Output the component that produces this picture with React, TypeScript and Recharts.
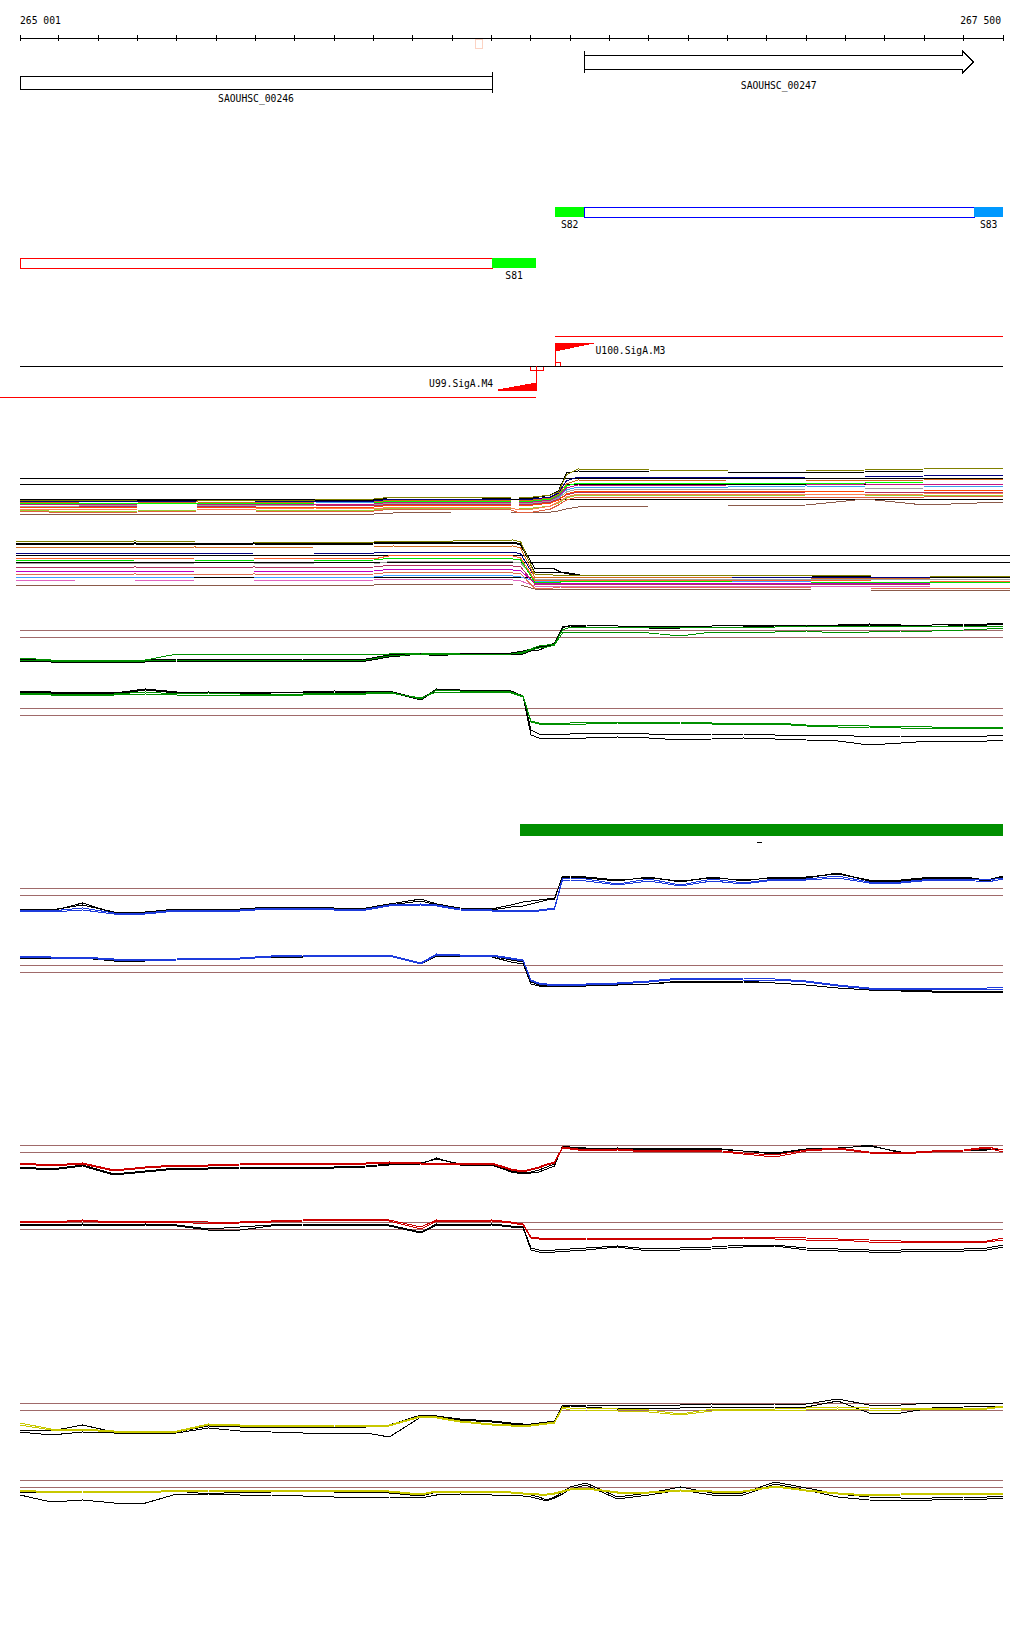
import React from 'react';
import { ComposedChart, LineChart, Line, XAxis, YAxis, ReferenceLine, ReferenceArea, Scatter } from 'recharts';

// ---------------- genome window ----------------
const START = 265001;
const END = 267500;
const W = 1024;
const FONT = '"DejaVu Sans Mono", monospace';

// ruler ticks and end labels
const axisTicks = [265001, 265100, 265200, 265300, 265400, 265500, 265600, 265700, 265800, 265900, 266000, 266100, 266200, 266300, 266400, 266500, 266600, 266700, 266800, 266900, 267000, 267100, 267200, 267300, 267400, 267500];
const axisEndLabels = ['265 001', '267 500'];
const markerStart = 266160;
const markerEnd = 266178;

// genes
const geneNames = ['SAOUHSC_00246', 'SAOUHSC_00247'];
const geneStarts = [265001, 266435];
const geneEnds = [266201, 267425];

// transcribed segments
const segNames = ['S81', 'S82', 'S83'];
const segStarts = [266201, 266362, 267427];
const segEnds = [266313, 266435, 267500];
const segStrands = ['-', '+', '+'];
const transcriptStarts = [265001, 266435];
const transcriptEnds = [266201, 267427];
const transcriptStrands = ['-', '+'];

// promoters
const promoterNames = ['U100.SigA.M3', 'U99.SigA.M4'];
const promoterPos = [266362, 266313];
const promoterStrands = ['+', '-'];
const strandLineStarts = [266362, 264950];
const strandLineEnds = [267500, 266313];

// green region + small mark
const regionStart = 266273;
const regionEnd = 267500;
const dashStart = 266875;
const dashEnd = 266888;

// ---------------- expression tracks ----------------
const posAB = [265001, 265150, 265300, 265450, 265600, 265750, 265900, 265950, 266100, 266250, 266270, 266305, 266350, 266370, 266390, 266420, 266600, 266800, 267000, 267150, 267300, 267500];

const A_olive = [2.5, 2.4, 2.5, 2.5, 2.5, 2.5, 2.6, 2.8, 2.8, 2.7, 2.7, 2.8, 3.0, 3.3, 5.0, 5.6, 5.5, 5.4, 5.4, 5.5, 5.6, 5.7];
const A_black = [2.5, 2.5, 2.5, 2.4, 2.5, 2.5, 2.5, 2.8, 2.8, 2.6, 2.6, 2.7, 3.0, 3.4, 5.2, 5.4, 5.3, 5.3, 5.2, 5.3, 5.4, 5.4];
const A_navy = [2.4, 2.4, 2.3, 2.4, 2.4, 2.4, 2.4, 2.6, 2.6, 2.5, 2.5, 2.6, 2.8, 3.2, 4.4, 4.8, 4.8, 4.7, 4.8, 4.8, 4.9, 5.0];
const A_orange = [2.3, 2.2, 2.2, 2.3, 2.2, 2.3, 2.3, 2.5, 2.5, 2.4, 2.4, 2.5, 2.7, 3.1, 4.1, 4.5, 4.4, 4.5, 4.5, 4.4, 4.5, 4.6];
const A_lime = [2.2, 2.2, 2.2, 2.2, 2.1, 2.2, 2.2, 2.4, 2.4, 2.3, 2.3, 2.4, 2.6, 3.0, 3.9, 4.2, 4.2, 4.2, 4.1, 4.2, 4.3, 4.3];
const A_magenta = [2.1, 2.0, 2.1, 2.1, 2.1, 2.1, 2.1, 2.3, 2.3, 2.2, 2.2, 2.3, 2.5, 2.9, 3.7, 4.0, 3.9, 4.0, 4.0, 4.1, 4.0, 4.1];
const A_sky = [2.2, 2.1, 2.1, 2.2, 2.2, 2.3, 2.2, 2.3, 2.3, 2.2, 2.2, 2.3, 2.5, 2.8, 3.5, 3.8, 3.8, 3.8, 3.9, 3.8, 3.8, 3.9];
const A_gray = [1.9, 1.9, 2.0, 2.0, 1.9, 2.0, 2.0, 2.2, 2.2, 2.1, 2.1, 2.2, 2.4, 2.7, 3.3, 3.6, 3.6, 3.5, 3.6, 3.6, 3.7, 3.7];
const A_red = [1.8, 1.7, 1.8, 1.8, 1.8, 1.8, 1.8, 2.0, 2.0, 1.9, 1.9, 2.0, 2.2, 2.5, 3.1, 3.4, 3.4, 3.4, 3.3, 3.4, 3.4, 3.5];
const A_crimson = [1.9, 1.8, 1.9, 1.9, 1.9, 2.0, 1.9, 2.1, 2.1, 2.0, 2.0, 2.1, 2.3, 2.6, 3.0, 3.3, 3.3, 3.2, 3.3, 3.3, 3.3, 3.3];
const A_salmon = [1.6, 1.5, 1.6, 1.6, 1.6, 1.7, 1.6, 1.8, 1.8, 1.7, 1.5, 1.6, 1.9, 2.3, 2.8, 3.1, 3.1, 3.1, 3.1, 3.0, 3.1, 3.2];
const A_yellowgreen = [1.5, 1.3, 1.4, 1.5, 1.5, 1.5, 1.5, 1.7, 1.7, 1.6, 1.6, 1.7, 1.9, 2.2, 2.7, 3.0, 3.0, 2.9, 3.0, 3.0, 3.0, 3.0];
const A_tomato = [1.4, 1.2, 1.3, 1.4, 1.4, 1.4, 1.4, 1.6, 1.6, 1.5, 1.2, 1.3, 1.6, 2.0, 2.5, 2.8, 2.8, 2.8, 2.8, 2.8, 2.8, 2.9];
const A_brown = [1.1, 1.1, 1.1, 1.1, 1.1, 1.1, 1.1, 1.2, 1.3, 1.3, 1.3, 1.3, 1.3, 1.4, 1.6, 1.8, 1.9, 1.9, 2.0, 2.6, 2.0, 2.3];
const thrA = [4.7, 4.1, 2.6];

const B_olive = [5.9, 5.8, 5.9, 5.8, 5.8, 5.8, 5.8, 5.9, 5.9, 6.0, 5.8, 2.6, 2.5, 2.5, 2.5, 2.5, 2.5, 2.5, 2.5, 2.4, 2.4, 2.4];
const B_black = [5.7, 5.6, 5.7, 5.6, 5.7, 5.6, 5.7, 5.8, 5.8, 5.8, 5.6, 3.2, 3.2, 2.8, 2.6, 2.5, 2.4, 2.5, 2.5, 2.4, 2.4, 2.4];
const B_black2 = [5.6, 5.5, 5.6, 5.5, 5.6, 5.5, 5.6, 5.7, 5.7, 5.7, 5.5, 2.8, 2.8, 2.8, 2.7, 2.5, 2.5, 2.5, 2.4, 2.3, 2.3, 2.3];
const B_orange = [5.3, 5.3, 5.2, 5.3, 5.2, 5.3, 5.3, 5.4, 5.3, 5.4, 5.2, 2.3, 2.3, 2.3, 2.3, 2.3, 2.3, 2.2, 2.2, 2.1, 2.2, 2.2];
const B_navy = [4.7, 4.7, 4.7, 4.6, 4.7, 4.7, 4.7, 4.8, 4.8, 4.8, 4.6, 2.3, 2.3, 2.3, 2.3, 2.3, 2.3, 2.3, 2.3, 2.2, 2.3, 2.3];
const B_orangered = [4.2, 4.2, 4.1, 4.2, 4.2, 4.2, 4.1, 4.5, 4.5, 4.4, 4.2, 2.0, 2.0, 2.0, 2.0, 2.0, 2.0, 2.0, 2.0, 1.9, 1.9, 1.9];
const B_lime = [4.0, 3.9, 4.0, 4.0, 3.9, 3.9, 4.0, 4.2, 4.2, 4.1, 4.0, 1.8, 1.8, 1.8, 1.9, 1.9, 1.9, 1.8, 1.8, 1.8, 1.8, 1.8];
const B_gray = [3.7, 3.7, 3.6, 3.7, 3.7, 3.6, 3.6, 3.9, 3.9, 3.8, 3.7, 2.1, 2.1, 2.1, 2.1, 2.1, 2.1, 2.1, 2.1, 2.1, 2.1, 2.1];
const B_crimson = [3.3, 3.2, 3.3, 3.2, 3.3, 3.2, 3.3, 3.5, 3.5, 3.4, 3.3, 1.6, 1.6, 1.6, 1.6, 1.6, 1.6, 1.6, 1.6, 1.5, 1.6, 1.6];
const B_magenta = [2.9, 2.9, 2.8, 2.9, 2.9, 2.8, 2.9, 3.1, 3.1, 3.0, 2.9, 1.7, 1.7, 1.7, 1.7, 1.7, 1.7, 1.7, 1.7, 1.6, 1.7, 1.7];
const B_salmon = [2.6, 2.5, 2.6, 2.5, 2.6, 2.5, 2.6, 2.8, 2.8, 2.7, 2.6, 1.2, 1.2, 1.3, 1.3, 1.3, 1.3, 1.3, 1.2, 1.2, 1.2, 1.2];
const B_sky = [2.3, 2.3, 2.2, 2.3, 2.3, 2.3, 2.3, 2.5, 2.5, 2.4, 2.3, 1.9, 1.9, 1.9, 1.9, 1.9, 1.9, 1.9, 1.8, 1.8, 1.8, 1.8];
const B_pink = [2.0, 1.9, 1.9, 2.0, 2.0, 1.9, 2.0, 2.1, 2.1, 2.0, 1.9, 1.4, 1.4, 1.4, 1.4, 1.4, 1.4, 1.4, 1.4, 1.3, 1.4, 1.4];
const B_brown = [1.5, 1.5, 1.5, 1.5, 1.5, 1.5, 1.5, 1.6, 1.6, 1.5, 1.5, 1.1, 1.1, 1.1, 1.1, 1.1, 1.1, 1.1, 1.0, 1.0, 1.0, 1.0];
const thrB = [4.5, 3.8, 2.3];

const posTrack = [265001, 265080, 265160, 265240, 265320, 265400, 265480, 265560, 265640, 265720, 265800, 265880, 265940, 266020, 266060, 266120, 266200, 266250, 266280, 266300, 266320, 266340, 266360, 266380, 266400, 266440, 266520, 266600, 266680, 266760, 266840, 266920, 267000, 267080, 267160, 267240, 267320, 267400, 267460, 267500];

const C_black = [2.1, 2.0, 2.0, 1.9, 2.0, 2.1, 2.1, 2.1, 2.0, 2.1, 2.1, 2.1, 2.5, 2.7, 2.7, 2.7, 2.7, 2.7, 2.9, 3.1, 3.3, 3.4, 3.7, 5.2, 5.5, 5.5, 5.4, 5.4, 5.4, 5.4, 5.5, 5.5, 5.5, 5.5, 5.6, 5.5, 5.5, 5.6, 5.6, 5.7];
const C_green1 = [2.2, 2.0, 2.0, 2.0, 2.0, 2.6, 2.6, 2.6, 2.6, 2.6, 2.6, 2.6, 2.6, 2.7, 2.7, 2.6, 2.6, 2.6, 2.8, 3.1, 3.4, 3.5, 3.6, 5.0, 5.3, 5.3, 5.3, 5.2, 5.3, 5.3, 5.3, 5.3, 5.4, 5.3, 5.4, 5.4, 5.3, 5.4, 5.4, 5.4];
const C_green2 = [2.0, 1.9, 1.9, 1.8, 1.9, 2.0, 2.0, 2.0, 2.0, 2.0, 2.0, 2.0, 2.4, 2.6, 2.6, 2.6, 2.6, 2.6, 2.7, 3.0, 3.2, 3.3, 3.5, 4.7, 4.8, 4.8, 4.8, 4.7, 4.4, 4.8, 4.8, 4.8, 4.9, 4.7, 4.8, 4.9, 4.9, 5.0, 5.1, 5.2];
const C_black2 = [1.9, 1.8, 1.8, 1.7, 1.8, 1.9, 1.9, 1.9, 1.9, 1.9, 1.9, 1.9, 2.3, 2.6, 2.4, 2.6, 2.6, 2.6, 2.6, 2.9, 3.0, 3.3, 3.6, 5.3, 5.4, 5.3, 5.3, 5.2, 5.2, 5.3, 5.3, 5.4, 5.4, 5.4, 5.5, 5.4, 5.3, 5.5, 5.5, 5.6];
const thrC = [5.0, 4.3];

const D_black = [5.9, 5.8, 5.8, 5.7, 6.1, 5.8, 5.8, 5.7, 5.8, 5.8, 5.9, 5.8, 5.9, 5.1, 6.1, 6.0, 6.0, 5.9, 5.4, 2.0, 1.6, 1.6, 1.6, 1.6, 1.6, 1.7, 1.7, 1.6, 1.5, 1.6, 1.6, 1.5, 1.5, 1.5, 1.3, 1.4, 1.4, 1.4, 1.4, 1.5];
const D_black2 = [5.8, 5.7, 5.7, 5.6, 6.0, 5.7, 5.8, 5.6, 5.7, 5.8, 5.8, 5.7, 5.8, 5.0, 6.0, 5.9, 5.9, 5.8, 5.3, 1.5, 1.2, 1.2, 1.2, 1.2, 1.2, 1.2, 1.3, 1.2, 1.0, 1.1, 1.2, 1.1, 1.0, 0.9, 0.5, 0.7, 0.9, 0.9, 0.9, 1.0];
const D_green1 = [5.7, 5.6, 5.6, 5.6, 5.8, 5.6, 5.7, 5.6, 5.6, 5.6, 5.7, 5.7, 5.8, 5.1, 6.0, 5.9, 5.9, 5.8, 5.4, 2.9, 2.7, 2.7, 2.7, 2.7, 2.7, 2.8, 2.8, 2.8, 2.8, 2.7, 2.7, 2.7, 2.5, 2.5, 2.4, 2.4, 2.3, 2.3, 2.3, 2.3];
const D_green2 = [5.6, 5.5, 5.5, 5.5, 5.6, 5.5, 5.5, 5.5, 5.5, 5.5, 5.6, 5.6, 5.7, 5.2, 5.8, 5.8, 5.8, 5.7, 5.3, 2.8, 2.6, 2.6, 2.6, 2.6, 2.6, 2.6, 2.7, 2.7, 2.7, 2.6, 2.6, 2.6, 2.4, 2.3, 2.3, 2.2, 2.2, 2.2, 2.2, 2.2];
const thrD = [4.2, 3.5];

const E_black = [2.1, 2.0, 2.5, 1.8, 1.8, 2.1, 2.1, 2.1, 2.3, 2.3, 2.2, 2.2, 2.6, 3.1, 2.6, 2.2, 2.1, 2.5, 2.8, 2.9, 3.0, 3.1, 3.2, 5.3, 5.3, 5.2, 4.9, 5.3, 4.8, 5.3, 4.9, 5.3, 5.3, 5.6, 5.0, 5.0, 5.3, 5.3, 5.0, 5.4];
const E_blue1 = [2.0, 1.9, 2.2, 1.7, 1.7, 2.0, 2.0, 2.0, 2.2, 2.2, 2.1, 2.1, 2.5, 2.6, 2.5, 2.1, 2.0, 2.0, 2.0, 2.0, 2.0, 2.1, 2.2, 5.2, 5.2, 5.1, 4.6, 5.1, 4.5, 5.1, 4.7, 5.1, 5.1, 5.4, 4.8, 4.8, 5.1, 5.1, 5.0, 5.2];
const E_blue2 = [1.9, 1.8, 2.0, 1.6, 1.6, 1.9, 1.9, 1.9, 2.1, 2.1, 2.0, 2.0, 2.4, 2.5, 2.4, 2.0, 1.9, 1.9, 1.9, 1.9, 1.9, 2.0, 2.1, 5.0, 5.0, 4.9, 4.5, 4.9, 4.4, 4.9, 4.6, 5.0, 5.0, 5.2, 4.7, 4.7, 5.0, 5.0, 4.8, 5.1];
const E_black2 = [2.0, 1.9, 2.7, 1.7, 1.7, 2.0, 2.0, 2.0, 2.2, 2.2, 2.1, 2.1, 2.5, 2.9, 2.5, 2.1, 2.0, 2.3, 2.4, 2.6, 2.8, 3.0, 3.1, 5.4, 5.4, 5.3, 5.0, 5.2, 4.9, 5.2, 5.0, 5.2, 5.2, 5.7, 4.9, 4.9, 5.2, 5.2, 4.9, 5.3];
const thrE = [4.2, 3.5];

const F_black = [5.3, 5.3, 5.3, 5.0, 5.0, 5.1, 5.2, 5.2, 5.4, 5.4, 5.5, 5.5, 5.5, 4.7, 5.5, 5.5, 5.4, 5.0, 4.8, 2.8, 2.5, 2.5, 2.5, 2.5, 2.5, 2.5, 2.5, 2.6, 2.8, 2.8, 2.8, 2.7, 2.5, 2.2, 2.0, 1.9, 1.8, 1.8, 1.8, 1.7];
const F_black2 = [5.2, 5.2, 5.2, 4.9, 4.9, 5.0, 5.1, 5.1, 5.3, 5.3, 5.4, 5.4, 5.4, 4.6, 5.4, 5.4, 5.3, 4.8, 4.6, 2.6, 2.4, 2.4, 2.4, 2.4, 2.4, 2.4, 2.5, 2.6, 2.9, 2.9, 2.9, 2.7, 2.5, 2.2, 2.0, 2.0, 1.9, 1.9, 1.9, 1.8];
const F_blue1 = [5.4, 5.3, 5.3, 5.1, 5.0, 5.1, 5.2, 5.2, 5.4, 5.5, 5.5, 5.5, 5.5, 4.7, 5.6, 5.5, 5.5, 5.2, 5.0, 3.0, 2.7, 2.6, 2.6, 2.6, 2.6, 2.6, 2.7, 2.9, 3.2, 3.2, 3.2, 3.1, 2.9, 2.5, 2.2, 2.2, 2.2, 2.2, 2.2, 2.3];
const F_blue2 = [5.3, 5.2, 5.2, 5.0, 4.9, 5.0, 5.1, 5.1, 5.3, 5.4, 5.4, 5.4, 5.4, 4.6, 5.5, 5.4, 5.4, 5.1, 4.9, 2.9, 2.6, 2.5, 2.5, 2.5, 2.5, 2.5, 2.6, 2.8, 3.1, 3.1, 3.0, 3.0, 2.8, 2.4, 2.1, 2.1, 2.1, 2.1, 2.1, 2.1];
const thrF = [4.5, 3.8];

const G_red1 = [2.7, 2.5, 2.7, 2.0, 2.3, 2.5, 2.5, 2.6, 2.7, 2.7, 2.7, 2.7, 2.8, 2.7, 2.7, 2.7, 2.7, 2.1, 1.9, 2.1, 2.3, 2.6, 2.8, 4.3, 4.2, 4.0, 4.1, 3.9, 4.0, 4.0, 3.7, 3.5, 4.0, 4.2, 3.8, 3.7, 3.9, 4.0, 4.3, 4.0];
const G_red2 = [2.6, 2.4, 2.6, 1.9, 2.2, 2.4, 2.4, 2.5, 2.6, 2.6, 2.6, 2.6, 2.7, 2.6, 2.6, 2.6, 2.6, 2.0, 1.8, 2.0, 2.2, 2.5, 2.7, 4.2, 4.1, 3.9, 4.0, 3.8, 3.9, 3.9, 3.6, 3.3, 3.9, 4.1, 3.7, 3.6, 3.8, 3.9, 4.2, 3.8];
const G_black1 = [2.3, 2.1, 2.5, 1.6, 1.9, 2.2, 2.2, 2.3, 2.3, 2.3, 2.3, 2.4, 2.6, 2.7, 3.1, 2.6, 2.6, 1.9, 1.7, 1.8, 2.0, 2.3, 2.6, 4.3, 4.2, 4.1, 4.2, 4.0, 4.1, 4.1, 3.9, 3.7, 4.1, 4.2, 4.4, 3.8, 3.8, 3.9, 4.1, 4.0];
const G_black2 = [2.2, 2.0, 2.4, 1.5, 1.8, 2.1, 2.1, 2.2, 2.2, 2.2, 2.2, 2.3, 2.5, 2.6, 3.2, 2.5, 2.5, 1.8, 1.6, 1.7, 1.8, 2.1, 2.4, 4.4, 4.3, 4.2, 4.2, 4.1, 4.2, 4.2, 3.9, 3.6, 4.0, 4.1, 4.5, 3.7, 3.8, 3.9, 4.0, 4.1];
const thrG = [4.5, 3.8];

const H_red1 = [4.9, 4.8, 5.0, 4.8, 4.9, 4.9, 4.8, 4.8, 4.9, 5.0, 5.1, 5.1, 5.0, 4.3, 5.0, 4.9, 5.0, 4.8, 4.6, 3.3, 3.2, 3.2, 3.2, 3.2, 3.2, 3.2, 3.1, 3.2, 3.2, 3.2, 3.3, 3.3, 3.2, 3.1, 3.0, 2.9, 2.9, 2.9, 2.9, 3.2];
const H_red2 = [4.8, 4.7, 4.9, 4.7, 4.8, 4.8, 4.6, 4.7, 4.8, 4.9, 5.0, 5.0, 4.9, 4.1, 4.9, 4.8, 4.9, 4.7, 4.5, 3.2, 3.1, 3.1, 3.1, 3.1, 3.1, 3.1, 3.0, 3.1, 3.1, 3.1, 3.2, 3.1, 3.0, 3.0, 2.8, 2.8, 2.8, 2.8, 2.8, 3.0];
const H_black1 = [4.6, 4.5, 4.6, 4.5, 4.6, 4.5, 4.1, 4.3, 4.5, 4.6, 4.6, 4.6, 4.5, 3.8, 4.6, 4.5, 4.6, 4.4, 4.3, 2.2, 2.0, 2.0, 2.0, 2.1, 2.1, 2.2, 2.4, 2.1, 2.2, 2.3, 2.5, 2.5, 2.2, 2.1, 2.0, 2.0, 2.1, 2.1, 2.2, 2.5];
const H_black2 = [4.5, 4.4, 4.5, 4.4, 4.5, 4.4, 4.0, 4.0, 4.4, 4.5, 4.5, 4.5, 4.4, 3.7, 4.5, 4.4, 4.5, 4.3, 4.2, 2.0, 1.8, 1.8, 1.8, 1.9, 1.9, 2.0, 2.3, 1.9, 2.0, 2.1, 2.3, 2.4, 2.0, 1.9, 1.8, 1.8, 1.9, 1.9, 2.0, 2.3];
const thrH = [4.8, 4.1];

const I_black1 = [2.5, 2.4, 3.0, 2.3, 2.2, 2.3, 2.9, 2.8, 2.8, 2.8, 2.8, 2.8, 3.0, 4.0, 3.9, 3.6, 3.4, 3.2, 3.1, 3.1, 3.2, 3.3, 3.4, 5.0, 5.0, 5.0, 4.9, 5.0, 5.0, 5.1, 5.0, 5.1, 5.1, 5.6, 5.0, 5.0, 5.2, 5.2, 5.2, 5.2];
const I_black2 = [2.3, 2.0, 2.3, 2.2, 2.1, 2.2, 2.7, 2.4, 2.3, 2.2, 2.2, 2.2, 1.8, 3.8, 3.8, 3.5, 3.3, 3.1, 3.0, 3.0, 3.1, 3.3, 3.4, 4.9, 4.9, 4.8, 4.6, 4.7, 4.7, 4.8, 4.7, 4.8, 4.8, 5.4, 4.2, 4.2, 4.7, 4.8, 4.9, 4.9];
const I_yellow1 = [3.2, 2.6, 2.6, 2.4, 2.3, 2.4, 3.1, 3.0, 3.0, 3.0, 3.0, 2.9, 3.0, 3.9, 3.8, 3.4, 3.1, 3.0, 3.0, 3.0, 3.1, 3.2, 3.3, 4.8, 4.7, 4.7, 4.6, 4.5, 4.1, 4.6, 4.6, 4.6, 4.7, 4.8, 4.7, 4.6, 4.7, 4.7, 4.7, 4.9];
const I_yellow2 = [3.0, 2.5, 2.5, 2.3, 2.2, 2.3, 3.0, 2.9, 2.9, 2.9, 2.9, 2.8, 2.9, 3.8, 3.7, 3.3, 3.0, 2.9, 2.9, 2.9, 3.0, 3.1, 3.2, 4.7, 4.5, 4.5, 4.4, 4.3, 4.0, 4.4, 4.5, 4.5, 4.5, 4.6, 4.5, 4.5, 4.6, 4.6, 4.6, 4.8];
const thrI = [5.2, 4.5];

const J_black1 = [2.8, 2.7, 2.8, 2.8, 2.7, 2.9, 2.6, 2.8, 2.8, 2.9, 2.8, 2.8, 2.7, 2.4, 2.8, 2.8, 2.8, 2.7, 2.6, 2.5, 2.3, 2.0, 2.3, 2.8, 3.3, 3.7, 2.3, 2.7, 3.3, 2.7, 2.7, 3.8, 3.2, 2.6, 2.3, 2.2, 2.2, 2.3, 2.3, 2.4];
const J_black2 = [2.5, 1.8, 2.0, 1.7, 1.7, 2.6, 2.6, 2.5, 2.5, 2.4, 2.3, 2.3, 2.3, 2.2, 2.5, 2.6, 2.5, 2.5, 2.4, 2.3, 2.1, 1.9, 2.2, 2.6, 3.1, 3.5, 2.1, 2.5, 3.0, 2.5, 2.5, 3.6, 3.0, 2.3, 2.0, 1.9, 2.0, 2.1, 2.1, 2.2];
const J_yellow1 = [3.0, 2.8, 2.9, 2.9, 2.8, 3.0, 3.0, 2.9, 3.0, 3.0, 3.0, 3.0, 2.9, 2.6, 2.9, 2.9, 2.9, 2.8, 2.7, 2.7, 2.6, 2.6, 2.7, 2.9, 3.1, 3.2, 2.8, 2.8, 3.0, 2.9, 2.9, 3.4, 3.0, 2.7, 2.5, 2.6, 2.7, 2.7, 2.7, 2.7];
const J_yellow2 = [2.9, 2.7, 2.8, 2.8, 2.7, 2.9, 2.9, 2.8, 2.9, 2.9, 2.9, 2.9, 2.8, 2.5, 2.8, 2.8, 2.8, 2.7, 2.6, 2.6, 2.5, 2.5, 2.6, 2.8, 3.0, 3.1, 2.7, 2.7, 2.9, 2.8, 2.8, 3.3, 2.9, 2.6, 2.4, 2.5, 2.6, 2.6, 2.6, 2.5];
const thrJ = [4.0, 3.3];

// ---------------- styles ----------------
const THR = '#a06a6a';
const GREEN = '#009000';
const BLUE = '#1e3cdc';
const RED = '#cc0000';
const YELLOW = '#c8c800';

function buildTable(positions: number[], series: any[]) {
  return positions.map((p, i) => {
    const row: any = { pos: p };
    series.forEach((s) => { row[s.key] = s.values[i]; });
    return row;
  });
}

function Track(props: any) {
  const { top, height, positions, series, thresholds, thresholdColor, left = 20, right = 21 } = props;
  const data = buildTable(positions, series);
  return (
    <div style={{ position: 'absolute', left: 0, top }}>
      <LineChart width={W} height={height} data={data} margin={{ top: 0, right, bottom: 0, left }}>
        <XAxis dataKey="pos" type="number" domain={[START, END]} hide allowDataOverflow />
        <YAxis type="number" domain={[0, height / 10]} hide allowDataOverflow />
        {thresholds.map((v: number, i: number) => (
          <ReferenceLine key={'t' + i} y={v} stroke={thresholdColor} strokeWidth={1} ifOverflow="visible" />
        ))}
        {series.map((s: any) => (
          <Line key={s.key} dataKey={s.key} type="linear" stroke={s.color} strokeWidth={1} dot={false} activeDot={false} isAnimationActive={false} />
        ))}
      </LineChart>
    </div>
  );
}

function RulerTick(props: any) {
  const { x, y, payload } = props;
  const v = payload.value;
  let label: any = null;
  if (v === axisTicks[0]) {
    label = <text x={x} y={y - 14} textAnchor="start" fontFamily={FONT} fontSize={9.7} fill="#000">{axisEndLabels[0]}</text>;
  } else if (v === axisTicks[axisTicks.length - 1]) {
    label = <text x={x - 2} y={y - 14} textAnchor="end" fontFamily={FONT} fontSize={9.7} fill="#000">{axisEndLabels[1]}</text>;
  }
  return (
    <g>
      <line x1={x} y1={y - 3} x2={x} y2={y + 3} stroke="#000" strokeWidth={1} />
      {label}
    </g>
  );
}

const ArrowShape = (p: any) => {
  const { x, y, width: w, height: h } = p;
  const hx = x + w - 11;
  return (
    <g>
      <polygon points={`${x},${y} ${hx},${y} ${hx},${y - 4} ${x + w},${y + h / 2} ${hx},${y + h + 4} ${hx},${y + h} ${x},${y + h}`} fill="#fff" stroke="#000" strokeWidth={1} />
      <line x1={x} y1={y - 4} x2={x} y2={y + h + 4} stroke="#000" strokeWidth={1} />
    </g>
  );
};
const FlagPlus = (p: any) => {
  const { x, y, width: w, height: h } = p;
  return <polygon points={`${x},${y} ${x + w},${y} ${x},${y + h}`} fill="#ff0000" stroke="#ff0000" strokeWidth={1} />;
};
const FlagMinus = (p: any) => {
  const { x, y, width: w, height: h } = p;
  return <polygon points={`${x + w},${y} ${x + w},${y + h} ${x},${y + h}`} fill="#ff0000" stroke="#ff0000" strokeWidth={1} />;
};

// layout rows (page pixels within annotation panel)
const ROW = {
  marker: [39, 48], genePlus: [55, 69], geneMinus: [76, 89], geneMinusBar: [72, 93],
  geneMinusLabel: 102, genePlusLabel: 89,
  segPlus: [207, 217], segMinus: [258, 268], segPlusLabel: 228, segMinusLabel: 279,
  strandPlus: 336, strandMinus: 397, center: 366,
  flagPlus: [343, 351], flagMinus: [383, 390], labelPlus: 354, labelMinus: 387,
};
const FLAG_BP = 97;

function Annotation() {
  const labels: any[] = [];
  geneNames.forEach((n, i) => {
    labels.push({ pos: (geneStarts[i] + geneEnds[i]) / 2, row: i === 0 ? ROW.geneMinusLabel : ROW.genePlusLabel, text: n, anchor: 'middle' });
  });
  segNames.forEach((n, i) => {
    labels.push({ pos: (segStarts[i] + segEnds[i]) / 2, row: segStrands[i] === '+' ? ROW.segPlusLabel : ROW.segMinusLabel, text: n, anchor: 'middle' });
  });
  promoterNames.forEach((n, i) => {
    const plus = promoterStrands[i] === '+';
    labels.push({ pos: plus ? promoterPos[i] + FLAG_BP + 5 : promoterPos[i] - FLAG_BP - 12, row: plus ? ROW.labelPlus : ROW.labelMinus, text: n, anchor: plus ? 'start' : 'end' });
  });

  return (
    <div style={{ position: 'absolute', left: 0, top: 0 }}>
      <ComposedChart width={W} height={410} margin={{ top: 0, right: 21, bottom: 0, left: 20 }}>
        <XAxis dataKey="pos" type="number" orientation="top" height={38} domain={[START, END]} allowDataOverflow
          ticks={axisTicks} interval={0} tickLine={false} tickSize={0} tickMargin={0}
          axisLine={{ stroke: '#000', strokeWidth: 1 }} tick={(p: any) => <RulerTick {...p} />} />
        <YAxis dataKey="row" type="number" domain={[38, 410]} reversed hide allowDataOverflow />

        <ReferenceArea x1={markerStart} x2={markerEnd} y1={ROW.marker[0]} y2={ROW.marker[1]} fill="#fff" fillOpacity={0} stroke="#fcd3c3" ifOverflow="visible" />

        {/* genes */}
        <ReferenceArea x1={geneStarts[0]} x2={geneEnds[0]} y1={ROW.geneMinus[0]} y2={ROW.geneMinus[1]} fill="#fff" fillOpacity={1} stroke="#000" strokeWidth={1} ifOverflow="visible" />
        <ReferenceLine segment={[{ x: geneEnds[0], y: ROW.geneMinusBar[0] }, { x: geneEnds[0], y: ROW.geneMinusBar[1] }]} stroke="#000" ifOverflow="visible" />
        <ReferenceArea x1={geneStarts[1]} x2={geneEnds[1]} y1={ROW.genePlus[0]} y2={ROW.genePlus[1]} ifOverflow="visible" shape={ArrowShape} />

        {/* transcripts and segments */}
        {transcriptStarts.map((s, i) => (
          <ReferenceArea key={'tr' + i} x1={s} x2={transcriptEnds[i]}
            y1={transcriptStrands[i] === '+' ? ROW.segPlus[0] : ROW.segMinus[0]}
            y2={transcriptStrands[i] === '+' ? ROW.segPlus[1] : ROW.segMinus[1]}
            fill="#fff" fillOpacity={1} stroke={transcriptStrands[i] === '+' ? '#0000ff' : '#ff0000'} strokeWidth={1} ifOverflow="visible" />
        ))}
        {segStarts.map((s, i) => (
          <ReferenceArea key={'sg' + i} x1={s} x2={segEnds[i]}
            y1={segStrands[i] === '+' ? ROW.segPlus[0] : ROW.segMinus[0]}
            y2={segStrands[i] === '+' ? ROW.segPlus[1] : ROW.segMinus[1]}
            fill={segNames[i] === 'S83' ? '#0099ff' : '#00ff00'} fillOpacity={1} stroke="none" ifOverflow="visible" />
        ))}

        {/* promoter track */}
        <ReferenceLine y={ROW.center} stroke="#000" strokeWidth={1} ifOverflow="visible" />
        <ReferenceLine segment={[{ x: strandLineStarts[0], y: ROW.strandPlus }, { x: strandLineEnds[0], y: ROW.strandPlus }]} stroke="#ff0000" ifOverflow="visible" />
        <ReferenceLine segment={[{ x: strandLineStarts[1], y: ROW.strandMinus }, { x: strandLineEnds[1], y: ROW.strandMinus }]} stroke="#ff0000" ifOverflow="visible" />

        <ReferenceArea x1={promoterPos[0]} x2={promoterPos[0] + FLAG_BP} y1={ROW.flagPlus[0]} y2={ROW.flagPlus[1]} ifOverflow="visible" shape={FlagPlus} />
        <ReferenceLine segment={[{ x: promoterPos[0], y: ROW.flagPlus[0] }, { x: promoterPos[0], y: ROW.center - 4 }]} stroke="#ff0000" ifOverflow="visible" />
        <ReferenceArea x1={promoterPos[0]} x2={promoterPos[0] + 14} y1={ROW.center - 4} y2={ROW.center} fill="#fff" fillOpacity={0} stroke="#ff0000" ifOverflow="visible" />

        <ReferenceArea x1={promoterPos[1] - FLAG_BP} x2={promoterPos[1]} y1={ROW.flagMinus[0]} y2={ROW.flagMinus[1]} ifOverflow="visible" shape={FlagMinus} />
        <ReferenceLine segment={[{ x: promoterPos[1], y: ROW.center }, { x: promoterPos[1], y: ROW.flagMinus[1] }]} stroke="#ff0000" ifOverflow="visible" />
        <ReferenceArea x1={promoterPos[1] - 13} x2={promoterPos[1]} y1={ROW.center} y2={ROW.center + 4} fill="#fff" fillOpacity={0} stroke="#ff0000" ifOverflow="visible" />
        <ReferenceArea x1={promoterPos[1]} x2={promoterPos[1] + 19} y1={ROW.center} y2={ROW.center + 4} fill="#fff" fillOpacity={0} stroke="#ff0000" ifOverflow="visible" />

        <Scatter data={labels} isAnimationActive={false}
          shape={(p: any) => (
            <text x={p.cx} y={p.cy} textAnchor={p.payload.anchor} fontFamily={FONT} fontSize={9.7} fill="#000">{p.payload.text}</text>
          )} />
      </ComposedChart>
    </div>
  );
}

function RegionBar() {
  return (
    <div style={{ position: 'absolute', left: 0, top: 815 }}>
      <ComposedChart width={W} height={35} margin={{ top: 0, right: 21, bottom: 0, left: 20 }}>
        <XAxis dataKey="pos" type="number" domain={[START, END]} hide allowDataOverflow />
        <YAxis type="number" domain={[0, 35]} reversed hide allowDataOverflow />
        <ReferenceArea x1={regionStart} x2={regionEnd} y1={9} y2={21} fill="#008f00" fillOpacity={1} stroke="none" ifOverflow="visible" />
        <ReferenceLine segment={[{ x: dashStart, y: 27 }, { x: dashEnd, y: 27 }]} stroke="#000" ifOverflow="visible" />
      </ComposedChart>
    </div>
  );
}

export default function App() {
  const seriesA = [
    { key: 'brown', values: A_brown, color: '#8b5a4a' },
    { key: 'tomato', values: A_tomato, color: '#e06040' },
    { key: 'yg', values: A_yellowgreen, color: '#9acd32' },
    { key: 'salmon', values: A_salmon, color: '#ff7f50' },
    { key: 'crimson', values: A_crimson, color: '#b03060' },
    { key: 'red', values: A_red, color: '#ff4500' },
    { key: 'gray', values: A_gray, color: '#a0a0a0' },
    { key: 'sky', values: A_sky, color: '#3ca0f0' },
    { key: 'magenta', values: A_magenta, color: '#c71585' },
    { key: 'lime', values: A_lime, color: '#00ff00' },
    { key: 'orange', values: A_orange, color: '#d2691e' },
    { key: 'navy', values: A_navy, color: '#000080' },
    { key: 'black', values: A_black, color: '#000000' },
    { key: 'olive', values: A_olive, color: '#808000' },
  ];
  const seriesB = [
    { key: 'brown', values: B_brown, color: '#8b5a4a' },
    { key: 'pink', values: B_pink, color: '#e066c0' },
    { key: 'sky', values: B_sky, color: '#40a0ff' },
    { key: 'salmon', values: B_salmon, color: '#e07050' },
    { key: 'magenta', values: B_magenta, color: '#c000c0' },
    { key: 'crimson', values: B_crimson, color: '#b03060' },
    { key: 'gray', values: B_gray, color: '#a0a0a0' },
    { key: 'lime', values: B_lime, color: '#00e000' },
    { key: 'orangered', values: B_orangered, color: '#ff6030' },
    { key: 'navy', values: B_navy, color: '#000080' },
    { key: 'orange', values: B_orange, color: '#d2691e' },
    { key: 'black2', values: B_black2, color: '#000000' },
    { key: 'black', values: B_black, color: '#000000' },
    { key: 'olive', values: B_olive, color: '#808000' },
  ];
  const pair = (k1: string, v1: number[], k2: string, v2: number[], k3: string, v3: number[], k4: string, v4: number[], c: string) => [
    { key: k1, values: v1, color: '#000' },
    { key: k2, values: v2, color: '#000' },
    { key: k3, values: v3, color: c },
    { key: k4, values: v4, color: c },
  ];
  return (
    <div style={{ position: 'absolute', left: 0, top: 0, width: W, height: 1640, background: '#fff', shapeRendering: 'crispEdges' } as any}>
      <Annotation />
      <Track top={455} height={70} positions={posAB} series={seriesA} thresholds={thrA} thresholdColor="#000" />
      <Track top={530} height={70} positions={posAB} series={seriesB} thresholds={thrB} thresholdColor="#000" left={16} right={14} />
      <Track top={610} height={70} positions={posTrack} series={pair('k1', C_black, 'k2', C_black2, 'c1', C_green1, 'c2', C_green2, GREEN)} thresholds={thrC} thresholdColor={THR} />
      <Track top={680} height={70} positions={posTrack} series={pair('k1', D_black, 'k2', D_black2, 'c1', D_green1, 'c2', D_green2, GREEN)} thresholds={thrD} thresholdColor={THR} />
      <RegionBar />
      <Track top={860} height={70} positions={posTrack} series={pair('k1', E_black, 'k2', E_black2, 'c1', E_blue1, 'c2', E_blue2, BLUE)} thresholds={thrE} thresholdColor={THR} />
      <Track top={940} height={70} positions={posTrack} series={pair('k1', F_black, 'k2', F_black2, 'c1', F_blue1, 'c2', F_blue2, BLUE)} thresholds={thrF} thresholdColor={THR} />
      <Track top={1130} height={60} positions={posTrack} series={pair('k1', G_black1, 'k2', G_black2, 'c1', G_red1, 'c2', G_red2, RED)} thresholds={thrG} thresholdColor={THR} />
      <Track top={1210} height={60} positions={posTrack} series={pair('k1', H_black1, 'k2', H_black2, 'c1', H_red1, 'c2', H_red2, RED)} thresholds={thrH} thresholdColor={THR} />
      <Track top={1395} height={60} positions={posTrack} series={pair('k1', I_black1, 'k2', I_black2, 'c1', I_yellow1, 'c2', I_yellow2, YELLOW)} thresholds={thrI} thresholdColor={THR} />
      <Track top={1470} height={50} positions={posTrack} series={pair('k1', J_black1, 'k2', J_black2, 'c1', J_yellow1, 'c2', J_yellow2, YELLOW)} thresholds={thrJ} thresholdColor={THR} />
    </div>
  );
}
